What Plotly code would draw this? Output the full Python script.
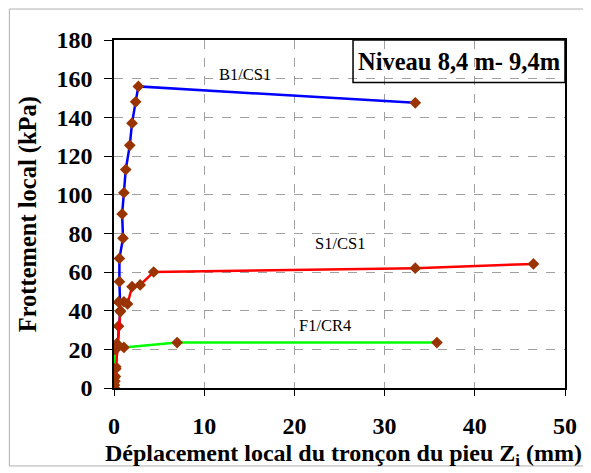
import plotly.graph_objects as go

# B1/CS1 (blue)
b1_x = [0, 0.05, 0.1, 0.15, 0.2, 0.35, 0.5, 0.7, 0.6, 0.6, 1.0, 0.9, 1.1, 1.3, 1.75, 2.0, 2.4, 2.7, 33.4]
b1_y = [0, 1.5, 3.5, 6, 11, 21, 32, 40, 55, 67, 77.5, 90, 101, 113, 125.5, 137, 148, 156, 147.5]
# S1/CS1 (red)
s1_x = [0, 0.2, 0.4, 0.7, 0.5, 1.1, 1.5, 2.0, 2.9, 4.4, 33.4, 46.5]
s1_y = [0, 10, 21, 39.5, 44.5, 44.6, 43.5, 52.4, 53.3, 60, 62, 64.2]
# F1/CR4 (green)
f1_x = [0, 0, 0, 0.1, 0.3, 1.1, 7.0, 35.8]
f1_y = [0, 5, 10, 20, 23, 21, 23.5, 23.5]

series_names = ["B1/CS1", "S1/CS1", "F1/CR4"]
x_ticks = [0, 10, 20, 30, 40, 50]
y_ticks = [0, 20, 40, 60, 80, 100, 120, 140, 160, 180]

serif = "Liberation Serif, Times New Roman, serif"
marker_color = "#993300"

fig = go.Figure()
for xs, ys, col, name in [(b1_x, b1_y, "#0000FF", series_names[0]),
                          (s1_x, s1_y, "#FF0000", series_names[1]),
                          (f1_x, f1_y, "#00FF00", series_names[2])]:
    fig.add_trace(go.Scatter(x=xs, y=ys, mode="lines+markers", name=name,
                             line=dict(color=col, width=2.5),
                             marker=dict(symbol="diamond", size=9, color=marker_color)))

fig.add_annotation(x=14.5, y=162, text="B1/CS1", showarrow=False,
                   font=dict(family=serif, size=16.5, color="black"))
fig.add_annotation(x=25, y=75, text="S1/CS1", showarrow=False,
                   font=dict(family=serif, size=16.5, color="black"))
fig.add_annotation(x=23.4, y=32.5, text="F1/CR4", showarrow=False,
                   font=dict(family=serif, size=16.5, color="black"))

# label box
fig.add_shape(type="rect", x0=26.5, x1=50, y0=158, y1=180, xref="x", yref="y",
              line=dict(color="black", width=1.5))
fig.add_annotation(x=38.25, y=169, text="<b>Niveau 8,4 m- 9,4m</b>", showarrow=False,
                   font=dict(family=serif, size=24.5, color="black"))

# axis titles
fig.add_annotation(xref="paper", yref="paper", x=0.509, y=-0.1925, showarrow=False,
                   xanchor="center", yanchor="middle",
                   text="<b>Déplacement local du tronçon du pieu Z<sub>i</sub> (mm)</b>",
                   font=dict(family=serif, size=24, color="black"))
fig.add_annotation(xref="paper", yref="paper", x=-0.19, y=0.5, showarrow=False, textangle=-90,
                   xanchor="center", yanchor="middle",
                   text="<b>Frottement local (kPa)</b>",
                   font=dict(family=serif, size=24.5, color="black"))

# outer frame
fig.add_shape(type="rect", xref="paper", yref="paper", x0=-0.232, x1=1.042, y0=-0.224, y1=1.089,
              line=dict(color="#b0b0b0", width=1))

fig.update_layout(
    width=583, height=465,
    margin=dict(l=106, r=26, t=32, b=85),
    paper_bgcolor="white", plot_bgcolor="white",
    showlegend=False,
    font=dict(family=serif, color="black"),
)
fig.update_xaxes(range=[0, 50], tickvals=x_ticks, ticks="outside", ticklen=6, tickwidth=1,
                 tickcolor="black", showline=True, linecolor="black", linewidth=1.5, mirror=True,
                 showgrid=True, gridcolor="#a0a0a0", griddash="dash", gridwidth=1, zeroline=False,
                 ticklabelstandoff=9,
                 tickfont=dict(family=serif, size=24, color="black", weight="bold"))
fig.update_yaxes(range=[0, 180], tickvals=y_ticks, ticks="outside", ticklen=8, tickwidth=1,
                 tickcolor="black", showline=True, linecolor="black", linewidth=1.5, mirror=True,
                 showgrid=True, gridcolor="#a0a0a0", griddash="dash", gridwidth=1, zeroline=False,
                 ticklabelstandoff=7,
                 tickfont=dict(family=serif, size=24, color="black", weight="bold"))

fig.write_html("out.html")
